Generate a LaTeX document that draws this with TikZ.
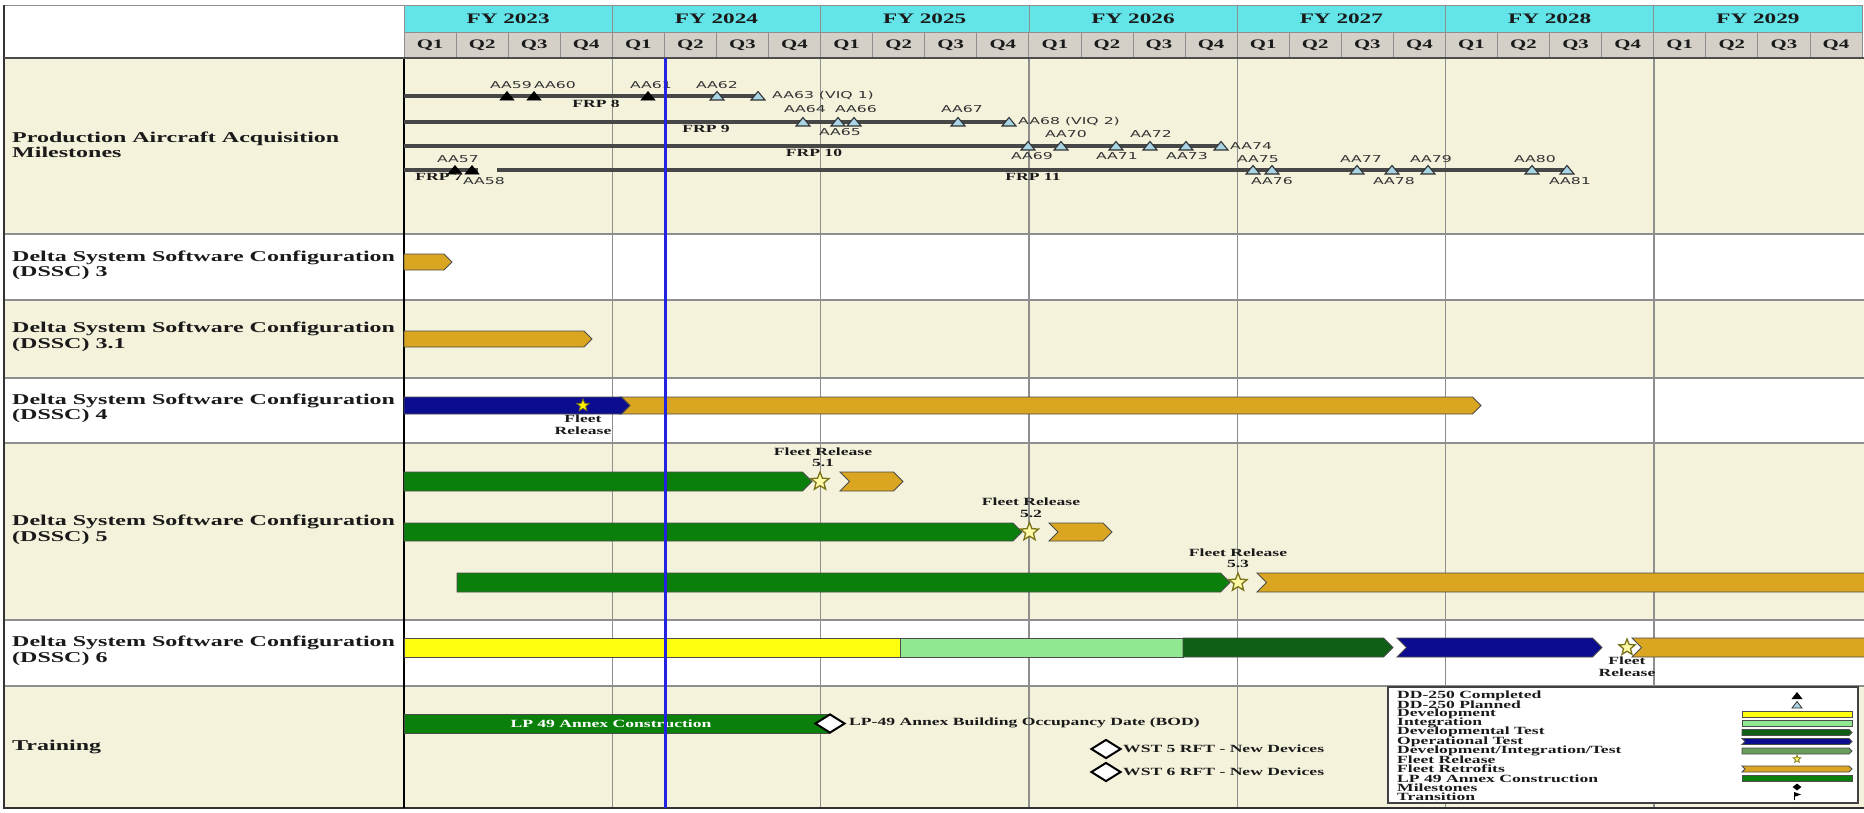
\documentclass[tikz,border=0pt]{standalone}
\usepackage{fontspec}
\usepackage{xcolor}
\usepackage{tikz}
\usetikzlibrary{shapes.geometric,positioning}
\newfontfamily\serifw{Liberation Serif}[FakeStretch=1.6]
\newfontfamily\sansw{DejaVu Sans}[FakeStretch=1.65]
\definecolor{ink}{HTML}{1A1A1A}
\definecolor{fycyan}{HTML}{62E4E8}
\definecolor{qgray}{HTML}{D4D0C8}
\definecolor{beige}{HTML}{F5F2DC}
\definecolor{gridgray}{HTML}{8E8E8E}
\definecolor{today}{HTML}{2424E0}
\definecolor{retro}{HTML}{DAA520}
\definecolor{optest}{HTML}{0C0C90}
\definecolor{devgreen}{HTML}{0A800A}
\definecolor{dtgreen}{HTML}{0F6014}
\definecolor{intgreen}{HTML}{90E890}
\definecolor{devyellow}{HTML}{FFFF10}
\definecolor{ditgreen}{HTML}{6A9C5C}
\definecolor{planfill}{HTML}{A8D4E4}
\definecolor{msink}{HTML}{333333}
% bar with a pointed right end: style, x1, x2, ytop, ybot
\newcommand{\tipbar}[5]{\draw[#1] (#2,#4) -- ({#3-(#5-#4)/2},#4) -- (#3,{(#4+#5)/2})
  -- ({#3-(#5-#4)/2},#5) -- (#2,#5) -- cycle;}
% chevron bar, notched at the left end
\newcommand{\chevbar}[5]{\draw[#1] (#2,#4) -- ({#3-(#5-#4)/2},#4) -- (#3,{(#4+#5)/2})
  -- ({#3-(#5-#4)/2},#5) -- (#2,#5) -- ({#2+(#5-#4)/2},{(#4+#5)/2}) -- cycle;}

\begin{document}
\begin{tikzpicture}[x=1pt,y=-1pt,
  rowlbl/.style={anchor=west,align=left,inner sep=0pt,text=ink,font=\serifw\bfseries\fontsize{15}{15.5}\selectfont},
  fylbl/.style={inner sep=0pt,text=ink,font=\serifw\bfseries\fontsize{14.5}{15}\selectfont},
  qlbl/.style={inner sep=0pt,text=ink,font=\serifw\bfseries\fontsize{13}{14}\selectfont},
  frplbl/.style={inner sep=0pt,text=ink,font=\serifw\bfseries\fontsize{11}{11}\selectfont},
  fltlbl/.style={inner sep=0pt,align=center,text=ink,font=\serifw\bfseries\fontsize{11}{11.5}\selectfont},
  mslbl/.style={inner sep=0pt,text=msink,font=\sansw\fontsize{9.5}{10}\selectfont},
  legtxt/.style={anchor=west,inner sep=0pt,text=ink,font=\serifw\bfseries\fontsize{11}{9}\selectfont},
  fycell/.style={fill=fycyan,draw=gridgray,line width=0.8},
  qcell/.style={fill=qgray,draw=gridgray,line width=0.8},
  frpline/.style={draw=black!72,line width=3.2},
  ddone/.style={fill=black,draw=black,line width=0.6},
  dplan/.style={fill=planfill,draw=black!80,line width=1.1},
  barbox/.style={line width=0.9,draw=black!70},
  fltstar/.style={star,star points=5,star point ratio=2.3,inner sep=0pt,minimum size=19,fill=yellow!35,draw=olive!80!black,line width=1.3},
  mstone/.style={diamond,inner sep=0pt,draw=black,line width=2,fill=white,minimum width=30,minimum height=19}]
  \useasboundingbox (0,0) rectangle (1864,812);
  % row backgrounds
  \foreach \ya/\yb/\c in {58/234/beige,234/300/white,300/378/beige,378/443/white,443/620/beige,620/686/white,686/808/beige}
    \fill[\c] (4,\ya) rectangle (1864,\yb);
  % header
  \draw[fill=white,draw=gridgray,line width=0.8] (4,5) rectangle (404,58);
  \foreach \yr [count=\i from 0] in {2023,...,2029} {
    \draw[fycell] ({404+208.3*\i},5) rectangle ({404+208.3*(\i+1)},32);
    \node[fylbl] (fy\yr) at ({404+208.3*(\i+0.5)},19) {FY \yr};
  }
  \foreach \j in {0,...,27} {
    \pgfmathtruncatemacro{\q}{mod(\j,4)+1}
    \draw[qcell] ({404+52.07*\j},32) rectangle ({404+52.07*(\j+1)},58);
    \node[qlbl] (q\j) at ({404+52.07*(\j+0.5)},45.5) {Q\q};
  }
  % grid
  \foreach \i in {1,...,6}
    \draw[gridgray,line width=1.4] ({404+208.3*\i},58) -- ({404+208.3*\i},808);
  \foreach \yy in {234,300,378,443,620,686}
    \draw[gridgray,line width=1.6] (4,\yy) -- (1864,\yy);
  \draw[black!80,line width=1.6] (4,5) -- (4,808) -- (1864,808);
  \draw[black,line width=1.8] (404,58) -- (404,808);
  \draw[black!70,line width=1.4] (4,58) -- (1864,58);
  % row titles
  \node[rowlbl] (lprod) at (12,145) {Production Aircraft Acquisition\\Milestones};
  \node[rowlbl] (ldssc3) at (12,265.5) {Delta System Software Configuration\\(DSSC) 3};
  \node[rowlbl] (ldssc31) at (12,337) {Delta System Software Configuration\\(DSSC) 3.1};
  \node[rowlbl] (ldssc4) at (12,408.5) {Delta System Software Configuration\\(DSSC) 4};
  \node[rowlbl] (ldssc5) at (12,530) {Delta System Software Configuration\\(DSSC) 5};
  \node[rowlbl] (ldssc6) at (12,651) {Delta System Software Configuration\\(DSSC) 6};
  \node[rowlbl] (ltrain) at (12,747) {Training};
  % production lots
  \draw[frpline] (404,96) -- (758,96);
  \draw[frpline] (404,122) -- (1009,122);
  \draw[frpline] (404,146) -- (1221,146);
  \draw[frpline] (404,170) -- (478,170);
  \draw[frpline] (497,170) -- (1567,170);
  \foreach \x/\y in {507/96,534/96,648/96,455/170,472/170}
    \draw[ddone] ({\x-7},{\y+4}) -- ({\x+7},{\y+4}) -- (\x,{\y-4.5}) -- cycle;
  \foreach \x/\y in {717/96,758/96,803/122,838/122,854/122,958/122,1009/122,
      1028/146,1061/146,1116/146,1150/146,1186/146,1221/146,
      1253/170,1272/170,1357/170,1392/170,1428/170,1532/170,1567/170}
    \draw[dplan] ({\x-7},{\y+4}) -- ({\x+7},{\y+4}) -- (\x,{\y-4.5}) -- cycle;
  \foreach \t/\x/\y in {AA59/511/85,AA60/555/85,AA61/651/85,AA62/717/85,
      AA64/805/109,AA65/840/132,AA66/856/109,AA67/962/109,
      AA69/1032/156,AA70/1066/134,AA71/1117/156,AA72/1151/134,AA73/1187/156,
      AA57/458/159,AA58/484/181,AA75/1258/159,AA76/1272/181,AA77/1361/159,
      AA78/1394/181,AA79/1431/159,AA80/1535/159,AA81/1570/181}
    \node[mslbl] (\t) at (\x,\y) {\t};
  \node[mslbl,anchor=west] (AA63) at (772,96) {AA63 (VIQ 1)};
  \node[mslbl,anchor=west] (AA68) at (1018,122) {AA68 (VIQ 2)};
  \node[mslbl,anchor=west] (AA74) at (1230,146) {AA74};
  \node[frplbl] (frp8) at (596,103.5) {FRP 8};
  \node[frplbl] (frp9) at (706,129) {FRP 9};
  \node[frplbl] (frp10) at (814,153) {FRP 10};
  \node[frplbl] (frp7) at (439,177) {FRP 7};
  \node[frplbl] (frp11) at (1033,177) {FRP 11};
  % DSSC 3 and 3.1
  \tipbar{barbox,fill=retro}{404}{452}{254}{270}
  \tipbar{barbox,fill=retro}{404}{592}{331}{347}
  % DSSC 4
  \chevbar{barbox,fill=retro}{620}{1481}{397}{414}
  \tipbar{barbox,fill=optest}{404}{630}{397}{414}
  \node[fltstar,minimum size=13,fill=yellow,line width=0.8] (rel4) at (583,405.5) {};
  \node[fltlbl,below=6pt of rel4] (rel4t) {Fleet\\Release};
  % DSSC 5
  \tipbar{barbox,fill=devgreen}{404}{812}{472}{491}
  \chevbar{barbox,fill=retro}{840}{903}{472}{491}
  \node[fltstar] (rel51) at (820,481.5) {};
  \node[fltlbl] (rel51t) at (823,457.5) {Fleet Release\\5.1};
  \tipbar{barbox,fill=devgreen}{404}{1022}{523}{541}
  \chevbar{barbox,fill=retro}{1049}{1112}{523}{541}
  \node[fltstar] (rel52) at (1029.5,532) {};
  \node[fltlbl] (rel52t) at (1031,508) {Fleet Release\\5.2};
  \tipbar{barbox,fill=devgreen}{457}{1230}{573}{592}
  \chevbar{barbox,fill=retro}{1257}{1875}{573}{592}
  \node[fltstar] (rel53) at (1238,582.5) {};
  \node[fltlbl] (rel53t) at (1238,558.5) {Fleet Release\\5.3};
  % DSSC 6
  \draw[barbox,fill=devyellow] (404,638) rectangle (900,657);
  \draw[barbox,fill=intgreen] (900,638) rectangle (1183,657);
  \tipbar{barbox,fill=dtgreen}{1183}{1393}{638}{657}
  \chevbar{barbox,fill=optest}{1397}{1602}{638}{657}
  \chevbar{barbox,fill=retro}{1632}{1875}{638}{657}
  \node[fltstar,minimum size=17] (rel6) at (1627,647.5) {};
  \node[fltlbl,anchor=north] (rel6t) at (1627,657) {Fleet\\Release};
  % training
  \draw[barbox,fill=devgreen] (404,714) rectangle (829,733);
  \node[fltlbl,text=white] (lp49) at (611,723.5) {LP 49 Annex Construction};
  \node[mstone] (bod) at (830,723.5) {};
  \node[fltlbl,anchor=west] (bodt) at (849,722.5) {LP-49 Annex Building Occupancy Date (BOD)};
  \node[mstone] (wst5) at (1106,749) {};
  \node[fltlbl,anchor=west] (wst5t) at (1123,748.5) {WST 5 RFT - New Devices};
  \node[mstone] (wst6) at (1106,772) {};
  \node[fltlbl,anchor=west] (wst6t) at (1123,771.5) {WST 6 RFT - New Devices};
  % status date
  \draw[today,line width=3] (665,58) -- (665,808);
  % legend
  \draw[fill=white,draw=black!75,line width=1.8] (1388,687) rectangle (1858,803);
  \foreach \t [count=\k from 0] in {DD-250 Completed,DD-250 Planned,Development,Integration,
      Developmental Test,Operational Test,{Development/Integration/Test},Fleet Release,
      Fleet Retrofits,LP 49 Annex Construction,Milestones,Transition}
    \node[legtxt] (leg\k) at (1397,{695.5+9.2*(\k)}) {\t};
  \fill[black] (1791.5,699) -- (1802.5,699) -- (1797,692) -- cycle;
  \draw[dplan,line width=0.8] (1792,708) -- (1802,708) -- (1797,701.5) -- cycle;
  \draw[barbox,fill=devyellow] (1742,711.5) rectangle (1852,717.5);
  \draw[barbox,fill=intgreen] (1742,720.5) rectangle (1852,726.5);
  \tipbar{barbox,fill=dtgreen}{1742}{1852}{729.5}{735.5}
  \chevbar{barbox,fill=optest}{1742}{1852}{738.5}{744.5}
  \tipbar{barbox,fill=ditgreen}{1742}{1852}{748}{754}
  \node[fltstar,minimum size=8,line width=0.7,fill=yellow!60] (legstar) at (1797,759) {};
  \chevbar{barbox,fill=retro}{1742}{1852}{766}{772}
  \draw[barbox,fill=devgreen] (1742,775.5) rectangle (1852,781.5);
  \node[diamond,fill=black,inner sep=0pt,minimum width=9,minimum height=7] (legms) at (1797,787) {};
  \draw[black,line width=1] (1794,800) -- (1794,792);
  \fill[black] (1794,792) -- (1801,794.5) -- (1794,797) -- cycle;
\end{tikzpicture}
\end{document}
